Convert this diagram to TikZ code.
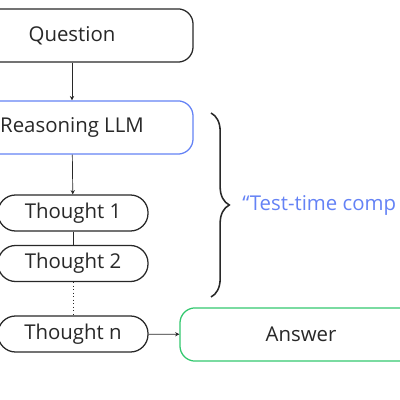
\documentclass[tikz,border=0pt]{standalone}
\usepackage{fontspec}
\setmainfont{Open Sans}
\usetikzlibrary{arrows.meta,positioning,decorations.pathreplacing}
\definecolor{llmblue}{RGB}{100,130,245}
\definecolor{ansgreen}{RGB}{50,200,110}
\definecolor{linegray}{RGB}{40,40,40}

\begin{document}
\begin{tikzpicture}[
  x=0.025cm, y=0.025cm,
  box/.style={draw=linegray, rounded corners=0.38cm, minimum width=6.05cm, minimum height=1.33cm,
              line width=0.9pt, font=\fontsize{14.5}{16}\selectfont, text=linegray},
  pill/.style={draw=linegray, rounded corners=0.44cm, minimum width=3.75cm, minimum height=0.9cm,
               line width=0.9pt, font=\fontsize{14.5}{16}\selectfont, text=linegray},
  flow/.style={-{Stealth[length=3pt,width=3pt]}, linegray, line width=0.5pt},
  link/.style={linegray, line width=0.5pt}
]
\useasboundingbox (0,0) rectangle (400,400);
\clip (0,0) rectangle (400,400);

%% Main column
\node[box]                   (qst) at (72,364.5)  {Question};
\node[box, draw=llmblue]     (llm) at (72,272.5)  {Reasoning LLM};
\node[pill]                  (th1) at (73,187)    {Thought 1};
\node[pill]                  (th2) at (73,136.5)  {Thought 2};
\node[pill]                  (thn) at (73,66)     {Thought n};
\node[box, draw=ansgreen]    (ans) at (301,65.5)  {Answer};

%% Column arrows
\draw[flow] (qst)--(llm);
\draw[flow] (llm)--(th1);
\draw[link] (th1)--(th2);
\draw[link, dotted] (th2)--(thn);
\draw[flow] (thn)--(ans);

%% Brace and label
\coordinate (btop) at (211,287);
\coordinate (bbot) at (211,103);
\draw[linegray, line width=1.1pt, decoration={brace, amplitude=13pt}, decorate]
  (btop) -- (bbot);
\node[anchor=west, text=llmblue, font=\fontsize{14.5}{16}\selectfont, inner xsep=0pt] (ttc) at (242,195)
  {“Test-time comp};
\end{tikzpicture}
\end{document}
